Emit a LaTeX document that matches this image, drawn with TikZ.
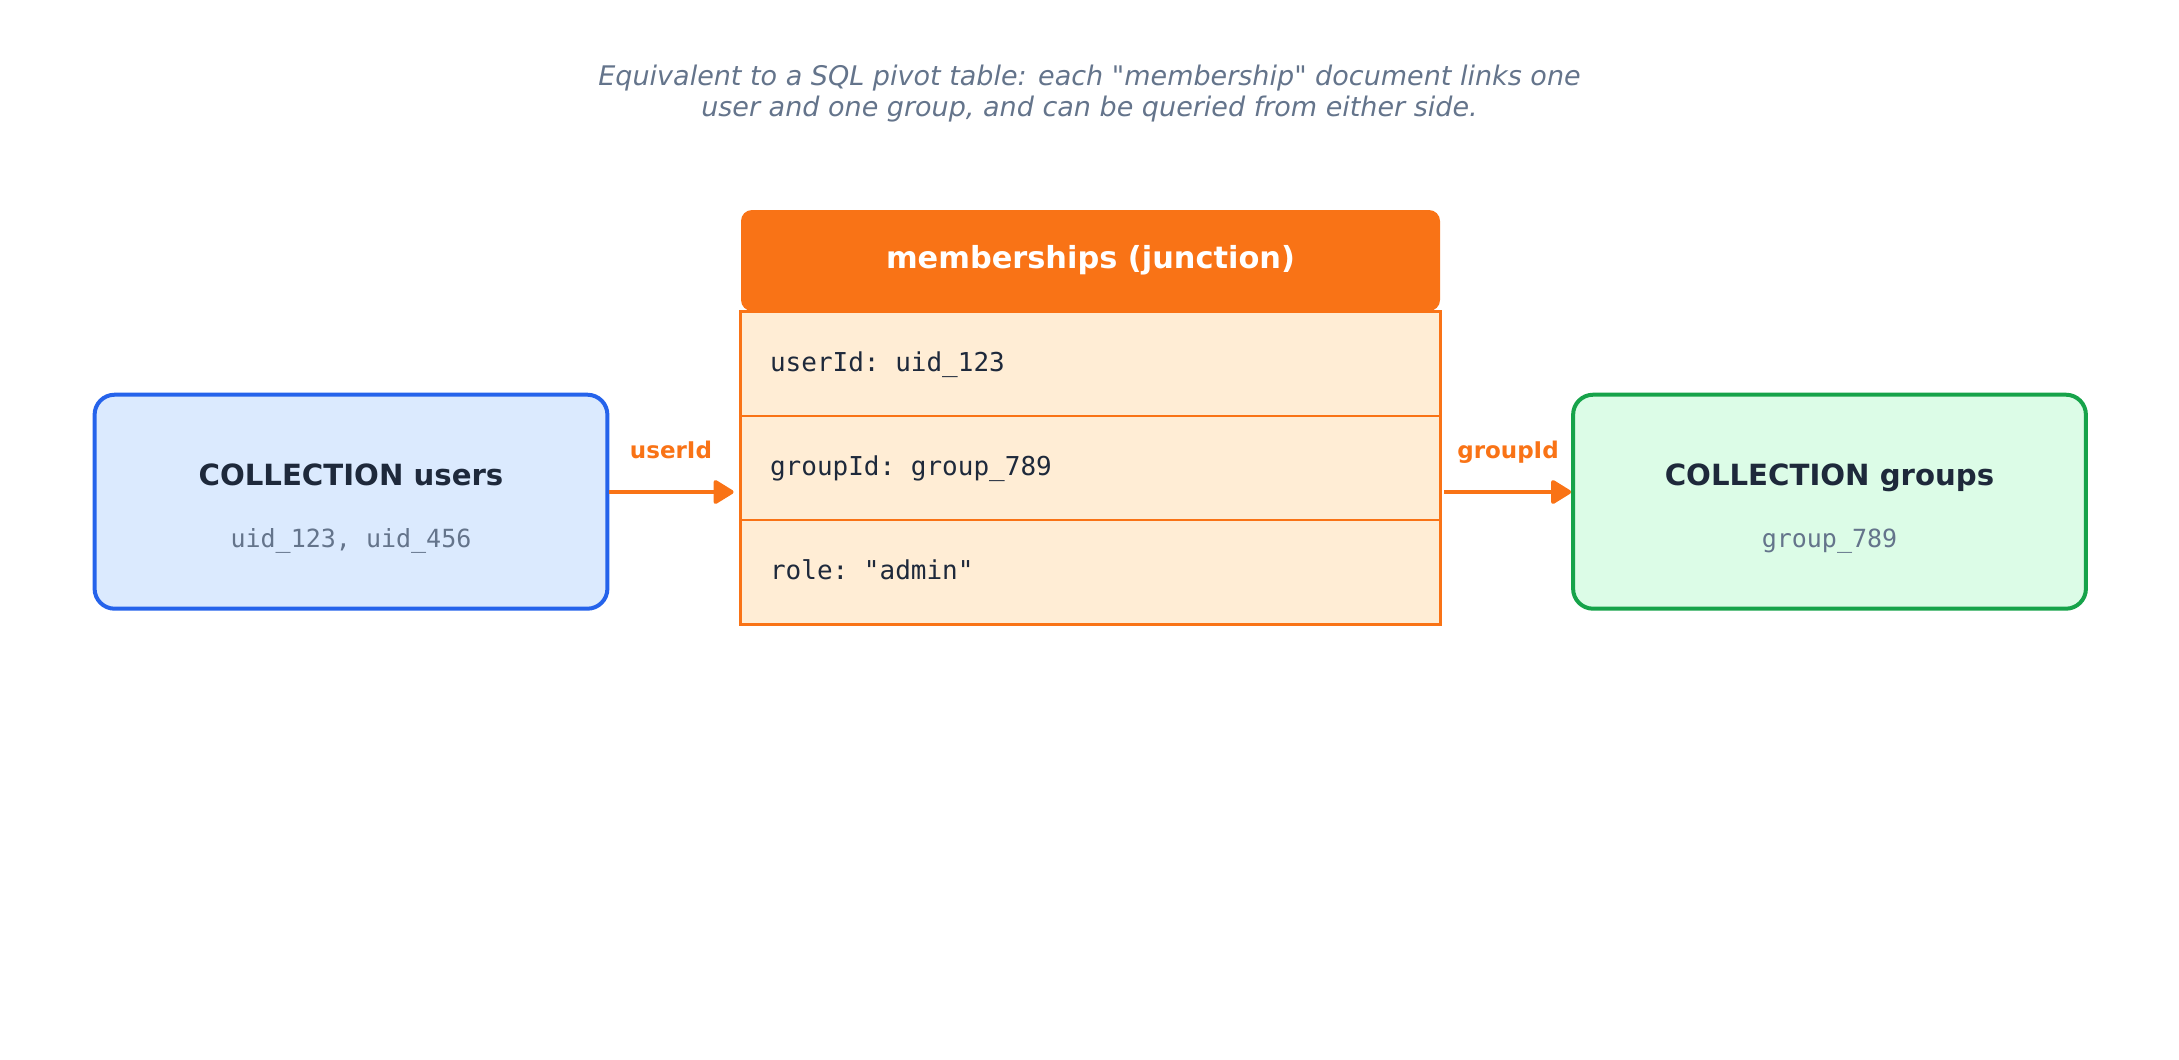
\documentclass[tikz,border=0pt]{standalone}
\usepackage{fontspec}
\setmainfont{DejaVu Sans}
\setmonofont{DejaVu Sans Mono}
\usetikzlibrary{arrows.meta}
\definecolor{junc}{HTML}{F97316}
\definecolor{juncbg}{HTML}{FFEDD5}
\definecolor{userline}{HTML}{2563EB}
\definecolor{userbg}{HTML}{DBEAFE}
\definecolor{groupline}{HTML}{16A34A}
\definecolor{groupbg}{HTML}{DCFCE7}
\definecolor{ink}{HTML}{1E293B}
\definecolor{muted}{HTML}{64748B}
\tikzset{
  coll/.style={draw, line width=2pt, rounded corners=10pt, minimum width=256.4pt,
    minimum height=107pt, inner sep=0pt},
  collname/.style={anchor=base, text=ink, font=\fontsize{14.6}{16}\selectfont\bfseries},
  collids/.style={anchor=base, text=muted, font=\fontsize{12.5}{14}\ttfamily},
  rowbox/.style={fill=juncbg, minimum width=349.5pt, minimum height=52pt, inner sep=0pt},
  rowtext/.style={anchor=base west, text=ink, font=\fontsize{13}{14}\ttfamily},
  link/.style={draw=junc, line width=2pt, -{Triangle[length=11pt,width=13pt,round]}},
  linklabel/.style={anchor=base, text=junc, font=\fontsize{11.5}{13}\selectfont\bfseries},
}
\begin{document}
\begin{tikzpicture}[x=0.5pt, y=-0.5pt]
  \useasboundingbox (0,0) rectangle (2179,1060);
  \node[align=center, text=muted, font=\fontsize{13.5}{15.5}\selectfont\itshape,
    anchor=base] (note) at (1089.5,116.5)
    {Equivalent to a SQL pivot table: each \textquotedbl membership\textquotedbl{} document links one\\
     user and one group, and can be queried from either side.};

  % junction table
  \node[fill=junc, rounded corners=5.5pt, minimum width=349.5pt, minimum height=50.5pt,
    inner sep=0pt] (head) at (1090.5,260.5) {};
  \node[anchor=base, text=white, font=\fontsize{15.2}{17}\selectfont\bfseries]
    (headtext) at (1090.5,268.3) {memberships (junction)};
  \node[rowbox] (row1) at (1090.5,364) {};
  \node[rowbox] (row2) at (1090.5,468) {};
  \node[rowbox] (row3) at (1090.5,572) {};
  \draw[junc, line width=1pt] (row1.south west) -- (row1.south east);
  \draw[junc, line width=1pt] (row2.south west) -- (row2.south east);
  \draw[junc, line width=1.5pt] (row1.north west) rectangle (row3.south east);
  \node[rowtext] (f1) at (763,371.7) {userId: uid\_123};
  \node[rowtext] (f2) at (763,475) {groupId: group\_789};
  \node[rowtext] (f3) at (763,579) {role: "admin"};

  % collections
  \node[coll, draw=userline, fill=userbg] (users) at (351,501.7) {};
  \node[collname] (usersname) at (351,485) {COLLECTION users};
  \node[collids] (usersids) at (351,547) {uid\_123, uid\_456};
  \node[coll, draw=groupline, fill=groupbg] (groups) at (1829.5,501.7) {};
  \node[collname] (groupsname) at (1829.5,485) {COLLECTION groups};
  \node[collids] (groupsids) at (1829.5,547) {group\_789};

  % links
  \coordinate (lvl) at (0,492);
  \draw[link] (users.east |- lvl) -- ([xshift=-3.5pt]row2.west |- lvl);
  \draw[link] ([xshift=2pt]row2.east |- lvl) -- (groups.west |- lvl);
  \node[linklabel] (ulab) at (671,458.5) {userId};
  \node[linklabel] (glab) at (1508,458.5) {groupId};
\end{tikzpicture}
\end{document}
